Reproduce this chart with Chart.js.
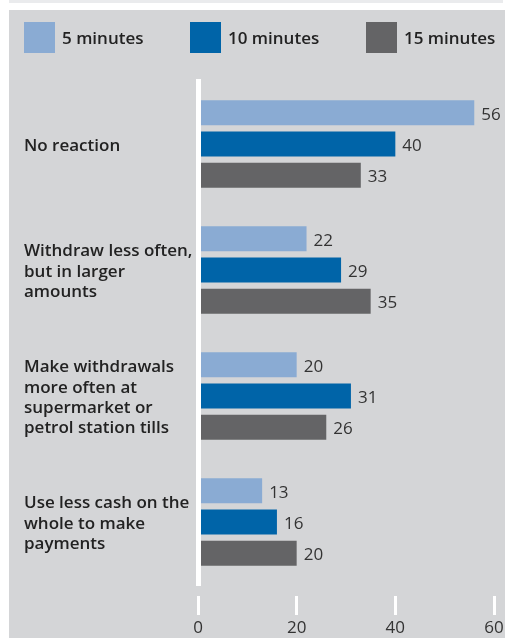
<!DOCTYPE html>
<html><head><meta charset="utf-8">
<script src="https://cdn.jsdelivr.net/npm/chart.js@4/dist/chart.umd.min.js"></script>
<style>html,body{margin:0;padding:0;background:#fff}#wrap{width:505px;height:638px;position:relative}</style>
</head><body><div id="wrap"><canvas id="c" width="505" height="638"></canvas></div>
<script>
const categories = [
  ["No reaction"],
  ["Withdraw less often,", "but in larger", "amounts"],
  ["Make withdrawals", "more often at", "supermarket or", "petrol station tills"],
  ["Use less cash on the", "whole to make", "payments"]
];
const seriesNames = ["5 minutes", "10 minutes", "15 minutes"];
const values5 = [56, 22, 20, 13];
const values10 = [40, 29, 31, 16];
const values15 = [33, 35, 26, 20];
const xTicks = [0, 20, 40, 60];
const colors = ["#8aabd3", "#0064a8", "#646466"];

const bgPlugin = {
  id: 'bg',
  beforeDraw(chart) {
    const ctx = chart.ctx;
    ctx.save();
    ctx.fillStyle = '#ffffff';
    ctx.fillRect(0, 0, 505, 638);
    ctx.fillStyle = '#eaebed';
    ctx.fillRect(9, 0, 494, 3);
    ctx.fillStyle = '#d4d5d7';
    ctx.fillRect(9, 10, 496, 628);
    ctx.restore();
  }
};

const legendPlugin = {
  id: 'customLegend',
  afterDraw(chart) {
    const ctx = chart.ctx;
    const xs = [24, 190, 366];
    ctx.save();
    ctx.font = '600 17px "Open Sans"';
    ctx.textBaseline = 'middle';
    ctx.textAlign = 'left';
    chart.data.datasets.forEach((ds, i) => {
      ctx.fillStyle = ds.backgroundColor;
      ctx.fillRect(xs[i], 22, 31, 31);
      ctx.fillStyle = '#222222';
      ctx.fillText(ds.label, xs[i] + 38, 39);
    });
    ctx.restore();
  }
};

const valuePlugin = {
  id: 'values',
  afterDatasetsDraw(chart) {
    const ctx = chart.ctx;
    ctx.save();
    ctx.font = '17px "Open Sans"';
    ctx.fillStyle = '#333333';
    ctx.textBaseline = 'middle';
    ctx.textAlign = 'left';
    chart.data.datasets.forEach((ds, di) => {
      const meta = chart.getDatasetMeta(di);
      meta.data.forEach((bar, i) => {
        ctx.fillText(String(ds.data[i]), bar.x + 7, bar.y + 2);
      });
    });
    ctx.restore();
  }
};

new Chart(document.getElementById('c'), {
  type: 'bar',
  data: {
    labels: categories,
    datasets: [
      { label: seriesNames[0], data: values5, backgroundColor: colors[0] },
      { label: seriesNames[1], data: values10, backgroundColor: colors[1] },
      { label: seriesNames[2], data: values15, backgroundColor: colors[2] }
    ]
  },
  options: {
    indexAxis: 'y',
    responsive: false,
    animation: false,
    devicePixelRatio: 1,
    categoryPercentage: 0.745,
    barPercentage: 0.8,
    layout: { padding: { left: 24, right: 11, top: 81, bottom: 0 } },
    plugins: { legend: { display: false }, tooltip: { enabled: false } },
    scales: {
      x: {
        min: 0, max: 60,
        afterBuildTicks(scale) { scale.ticks = xTicks.map(v => ({ value: v })); },
        afterFit(scale) { scale.height = 53; scale.paddingLeft = 0; scale.paddingRight = 0; },
        grid: { drawOnChartArea: false, drawTicks: true, tickLength: 30, tickWidth: 3, tickColor: '#ffffff', tickBorderDash: [0, 11, 19, 100] },
        border: { display: false },
        ticks: { font: { family: 'Open Sans', size: 17 }, color: '#333333', padding: 3 }
      },
      y: {
        afterFit(scale) { scale.width = 174; scale.paddingTop = 0; scale.paddingBottom = 0; },
        grid: { display: false },
        border: { display: true, color: '#ffffff', width: 5, z: 1 },
        ticks: { crossAlign: 'far', labelOffset: 2, font: { family: 'Open Sans', size: 17, weight: '600', lineHeight: 1.2 }, color: '#222222' }
      }
    }
  },
  plugins: [bgPlugin, legendPlugin, valuePlugin]
});
</script></body></html>
